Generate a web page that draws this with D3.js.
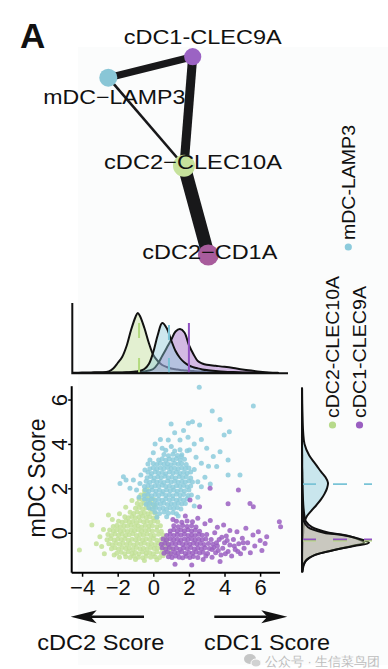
<!DOCTYPE html>
<html><head><meta charset="utf-8">
<script src="https://cdn.jsdelivr.net/npm/d3@7"></script>
<style>body{margin:0;background:#fff}svg{display:block}text{font-family:"Liberation Sans",Arial,sans-serif;fill:#111}</style>
</head><body><svg id="c" width="388" height="669"></svg>
<script>
// ---------- DATA ----------
const nodeNames = ["mDC−LAMP3","cDC1-CLEC9A","cDC2−CLEC10A","cDC2−CD1A"];
const nodeLayoutX = [0, 0.844, 0.757, 1];
const nodeLayoutY = [0.106, 0, 0.55, 1];
const nodeSize = [0.82, 0.78, 1, 0.95];
const edgeFrom = [0, 1, 0, 2];
const edgeTo   = [1, 2, 2, 3];
const edgeWeight = [0.55, 0.7, 0.2, 1];

const legendNames = ["mDC-LAMP3","cDC2-CLEC10A","cDC1-CLEC9A"];

const xTicks = [-4,-2,0,2,4,6];
const yTicks = [0,2,4,6];

// top marginal density (cDC2/cDC1 score axis)
const gridX = [-4.5,-4,-3.5,-3,-2.5,-2.25,-2,-1.75,-1.5,-1.25,-1,-0.875,-0.75,-0.5,-0.25,0,0.25,0.5,0.75,1,1.25,1.5,1.75,2,2.25,2.5,2.75,3,3.5,4,4.5,5,5.5,6,6.5,7];
const densXGreen  = [0.2,0.4,0.6,0.8,1.5,4.5,10,16,27,43,56,60,57,45,30,18,12,8,6,4.5,3.8,3,2.6,2.2,1.9,1.6,1.4,1.2,0.9,0.6,0.4,0.3,0.2,0.1,0.1,0];
const densXBlue   = [0,0,0.1,0.2,0.3,0.4,0.5,0.6,0.8,1.1,1.5,1.8,2.2,4,9,21,38,50,45,33,22,15,10.5,7.5,5.8,4.6,3.6,2.9,2,1.3,0.9,0.6,0.4,0.2,0.1,0];
const densXPurple = [0,0,0,0.1,0.1,0.2,0.2,0.3,0.4,0.5,0.7,0.8,1,1.5,2.5,4,9,17,25,33,41.5,44,40.5,28,19,12,9.5,8.2,7.2,6.2,5,3.6,2.4,1.3,0.5,0.2];
const medianX = [-0.8, 0.88, 2.0]; // green, blue, purple

// right marginal density (mDC score axis)
const gridY = [-1.75,-1.5,-1.25,-1,-0.8,-0.6,-0.45,-0.25,-0.1,0,0.25,0.5,0.75,1,1.25,1.5,1.75,2,2.25,2.5,2.75,3,3.5,4,4.5,5,5.5,6,6.5];
const densYGreen  = [0.3,1,4,13,30,52,67,55,40,22,6,2,1.2,0.8,0.6,0.5,0.4,0.3,0.3,0.2,0.2,0.1,0.1,0,0,0,0,0,0];
const densYPurple = [0.5,1.5,4,13,30,50,62,54,42,27,10,4,2.5,1.8,1.3,1,0.7,0.5,0.4,0.3,0.2,0.1,0.1,0,0,0,0,0,0];
const densYBlue   = [0,0.1,0.2,0.3,0.4,0.5,0.6,0.8,1,1.2,1.5,2.5,5,9.5,14.5,19,22.5,25,26,23.5,19,15,7,2.5,1.2,0.7,0.4,0.2,0.1];
const medianY = [-0.36, 2.19, -0.30]; // green, blue, purple

// scatter points [cDC1-cDC2 score, mDC score]
const ptsGreen = [
[-1.55,-1.08],[-1.3,-1.12],[-1.1,-1.05],[-0.85,-1.1],[-0.6,-1.13],[-0.4,-1.06],[-0.15,-1.1],[0.1,-1.08],[0.35,-1.12],[0.55,-1.04],
[-2.05,-0.92],[-1.8,-0.88],[-1.6,-0.95],[-1.4,-0.86],[-1.2,-0.93],[-1.0,-0.89],[-0.8,-0.95],[-0.6,-0.87],[-0.4,-0.92],[-0.2,-0.9],[0.0,-0.95],[0.2,-0.86],[0.45,-0.92],[0.7,-0.88],[0.9,-0.94],
[-2.35,-0.72],[-2.15,-0.68],[-1.95,-0.74],[-1.75,-0.66],[-1.55,-0.71],[-1.35,-0.69],[-1.15,-0.75],[-0.95,-0.67],[-0.75,-0.72],[-0.55,-0.7],[-0.35,-0.74],[-0.15,-0.66],[0.05,-0.71],[0.25,-0.69],[0.5,-0.73],[0.75,-0.67],[1.0,-0.72],
[-2.5,-0.5],[-2.3,-0.54],[-2.1,-0.47],[-1.9,-0.52],[-1.7,-0.46],[-1.5,-0.53],[-1.3,-0.49],[-1.1,-0.55],[-0.9,-0.47],[-0.7,-0.51],[-0.5,-0.46],[-0.3,-0.53],[-0.1,-0.49],[0.1,-0.54],[0.3,-0.47],[0.55,-0.51],[0.8,-0.48],
[-2.6,-0.32],[-2.4,-0.27],[-2.2,-0.33],[-2.0,-0.28],[-1.8,-0.31],[-1.6,-0.26],[-1.4,-0.34],[-1.2,-0.29],[-1.0,-0.32],[-0.8,-0.27],[-0.6,-0.33],[-0.4,-0.28],[-0.2,-0.31],[0.0,-0.26],[0.2,-0.34],[0.45,-0.29],[0.7,-0.32],
[-2.55,-0.08],[-2.35,-0.12],[-2.15,-0.06],[-1.95,-0.11],[-1.75,-0.07],[-1.55,-0.13],[-1.35,-0.09],[-1.15,-0.05],[-0.95,-0.12],[-0.75,-0.08],[-0.55,-0.11],[-0.35,-0.06],[-0.15,-0.1],[0.05,-0.13],[0.3,-0.07],[0.55,-0.1],
[-2.45,0.12],[-2.25,0.08],[-2.05,0.13],[-1.85,0.07],[-1.65,0.11],[-1.45,0.06],[-1.25,0.12],[-1.05,0.09],[-0.85,0.13],[-0.65,0.07],[-0.45,0.1],[-0.25,0.14],[-0.05,0.08],[0.2,0.11],[0.45,0.07],
[-2.25,0.28],[-2.05,0.33],[-1.85,0.27],[-1.65,0.32],[-1.45,0.29],[-1.25,0.34],[-1.05,0.28],[-0.85,0.31],[-0.65,0.26],[-0.45,0.33],[-0.25,0.29],[-0.05,0.32],[0.2,0.27],[0.4,0.31],
[-1.95,0.52],[-1.75,0.47],[-1.55,0.53],[-1.35,0.48],[-1.15,0.51],[-0.95,0.46],[-0.75,0.54],[-0.55,0.49],[-0.35,0.52],[-0.15,0.47],[0.05,0.53],[0.25,0.5],
[-1.6,0.72],[-1.4,0.68],[-1.2,0.73],[-1.0,0.67],[-0.8,0.71],[-0.6,0.74],[-0.4,0.69],[-0.2,0.72],[0.0,0.66],[0.2,0.71],
[-1.3,0.92],[-1.1,0.87],[-0.9,0.93],[-0.7,0.88],[-0.5,0.91],[-0.3,0.86],[-0.1,0.92],[0.1,0.89],
[-1.0,1.1],[-0.8,1.14],[-0.6,1.07],[-0.4,1.12],[-0.2,1.08],[0.05,1.13],
[-0.9,1.32],[-0.7,1.27],[-0.5,1.33],[-0.3,1.28],[-0.1,1.31],[0.1,1.26],
[-0.8,1.52],[-0.6,1.47],[-0.4,1.53],[-0.2,1.49],[0.0,1.51],
[-0.7,1.7],[-0.5,1.74],[-0.3,1.68],[-0.5,1.9],[-0.35,1.95],
[-4.15,-0.78],[-3.45,0.35],[-3.0,-0.18],[-2.9,-0.62],[-2.52,0.8],[-2.8,0.15],[-2.75,-0.95],[-2.3,0.6],[-1.9,0.85],[-1.55,1.15],[-1.2,1.45],[-2.2,-1.0],[-1.9,-1.1],[-0.5,-1.25],[0.2,-1.22],[-1.0,-1.2],[-3.2,-0.5]
];
const ptsBlue = [
[0.1,0.92],[0.35,0.87],[0.6,0.93],[0.85,0.88],[1.1,0.91],[1.3,0.86],
[-0.25,1.12],[-0.05,1.07],[0.15,1.13],[0.35,1.08],[0.55,1.11],[0.75,1.06],[0.95,1.12],[1.15,1.09],[1.35,1.13],[1.55,1.07],
[-0.4,1.28],[-0.2,1.33],[0.0,1.27],[0.2,1.32],[0.4,1.29],[0.6,1.34],[0.8,1.27],[1.0,1.31],[1.2,1.28],[1.4,1.33],[1.6,1.29],[1.8,1.32],
[-0.5,1.52],[-0.3,1.47],[-0.1,1.53],[0.1,1.48],[0.3,1.51],[0.5,1.46],[0.7,1.53],[0.9,1.49],[1.1,1.52],[1.3,1.47],[1.5,1.51],[1.7,1.48],[1.9,1.53],
[-0.5,1.68],[-0.3,1.73],[-0.1,1.67],[0.1,1.72],[0.3,1.69],[0.5,1.74],[0.7,1.68],[0.9,1.71],[1.1,1.67],[1.3,1.73],[1.5,1.69],[1.7,1.72],[1.95,1.68],
[-0.45,1.92],[-0.25,1.87],[-0.05,1.93],[0.15,1.88],[0.35,1.91],[0.55,1.86],[0.75,1.92],[0.95,1.89],[1.15,1.93],[1.35,1.87],[1.55,1.91],[1.75,1.88],[2.0,1.92],
[-0.5,2.08],[-0.3,2.13],[-0.1,2.07],[0.1,2.12],[0.3,2.09],[0.5,2.14],[0.7,2.08],[0.9,2.11],[1.1,2.06],[1.3,2.12],[1.5,2.09],[1.7,2.13],[1.9,2.07],[2.1,2.11],
[-0.4,2.32],[-0.2,2.27],[0.0,2.33],[0.2,2.28],[0.4,2.31],[0.6,2.26],[0.8,2.33],[1.0,2.29],[1.2,2.32],[1.4,2.27],[1.6,2.31],[1.8,2.28],[2.0,2.33],[2.2,2.29],
[-0.35,2.48],[-0.15,2.53],[0.05,2.47],[0.25,2.52],[0.45,2.49],[0.65,2.54],[0.85,2.48],[1.05,2.51],[1.25,2.47],[1.45,2.53],[1.65,2.49],[1.85,2.52],[2.1,2.47],
[-0.3,2.72],[-0.1,2.67],[0.1,2.73],[0.3,2.68],[0.5,2.71],[0.7,2.66],[0.9,2.73],[1.1,2.69],[1.3,2.72],[1.5,2.67],[1.7,2.71],[1.9,2.68],[2.1,2.73],
[-0.2,2.88],[0.0,2.93],[0.2,2.87],[0.4,2.92],[0.6,2.89],[0.8,2.94],[1.0,2.88],[1.2,2.91],[1.4,2.87],[1.6,2.93],[1.8,2.89],[2.0,2.92],
[0.0,3.12],[0.2,3.07],[0.4,3.13],[0.6,3.08],[0.8,3.11],[1.0,3.06],[1.2,3.13],[1.4,3.09],[1.6,3.12],[1.85,3.07],
[0.3,3.28],[0.5,3.33],[0.7,3.27],[0.9,3.32],[1.1,3.29],[1.3,3.34],[1.5,3.28],[1.75,3.31],
[0.6,3.52],[0.85,3.47],[1.1,3.53],[1.35,3.48],[1.6,3.51],
[0.7,3.72],[1.2,3.68],[1.5,3.74],[1.9,3.69],
[2.58,6.55],[5.62,5.71],[3.31,5.48],[3.75,5.1],[1.97,4.93],[2.6,4.85],[4.27,4.55],[3.98,4.4],[1.5,4.18],[1.95,4.3],[2.7,4.2],[0.84,4.18],[0.4,4.2],[0.1,4.0],
[3.75,3.65],[3.37,3.43],[4.2,3.28],[4.87,2.6],[4.2,2.6],[3.56,2.98],[-1.68,2.52],[-1.53,2.37],[-1.12,2.37],[-0.75,2.22],[-0.94,1.92],[-1.31,2.0],[-1.87,2.22],
[2.7,2.07],[2.14,1.7],[2.5,2.3],[2.3,2.85],[2.7,3.13],[2.03,3.73],[1.57,3.43],[1.01,3.88],[-0.19,3.28],[-0.47,2.83],[1.2,4.5],[2.3,4.0],[0.5,3.8],[1.7,4.6],
[3.0,3.8],[2.9,2.5],[3.1,3.0],[-0.8,1.6],[-0.7,2.6],[0.2,0.7],[0.75,0.72],[1.4,0.75],[2.3,1.2],[2.5,1.6],[3.2,2.2],[1.0,4.9],[2.2,5.0],[0.0,3.6],[-0.3,3.1],[2.4,3.4]
];
const ptsPurple = [
[0.85,-1.08],[1.05,-1.12],[1.25,-1.05],[1.45,-1.1],[1.65,-1.13],[1.85,-1.06],[2.05,-1.11],[2.25,-1.07],[2.5,-1.12],
[0.6,-0.92],[0.8,-0.87],[1.0,-0.93],[1.2,-0.88],[1.4,-0.91],[1.6,-0.86],[1.8,-0.93],[2.0,-0.89],[2.2,-0.92],[2.4,-0.87],[2.6,-0.91],[2.8,-0.88],[3.05,-0.93],
[0.5,-0.68],[0.7,-0.73],[0.9,-0.67],[1.1,-0.72],[1.3,-0.69],[1.5,-0.74],[1.7,-0.68],[1.9,-0.71],[2.1,-0.67],[2.3,-0.73],[2.5,-0.69],[2.7,-0.72],[2.9,-0.68],[3.15,-0.71],[3.4,-0.67],
[0.45,-0.52],[0.65,-0.47],[0.85,-0.53],[1.05,-0.48],[1.25,-0.51],[1.45,-0.46],[1.65,-0.53],[1.85,-0.49],[2.05,-0.52],[2.25,-0.47],[2.45,-0.51],[2.65,-0.48],[2.85,-0.53],[3.1,-0.49],[3.35,-0.52],
[0.55,-0.28],[0.75,-0.33],[0.95,-0.27],[1.15,-0.32],[1.35,-0.29],[1.55,-0.34],[1.75,-0.28],[1.95,-0.31],[2.15,-0.27],[2.35,-0.33],[2.55,-0.29],[2.75,-0.32],[2.95,-0.28],[3.25,-0.31],
[0.75,-0.12],[0.95,-0.07],[1.15,-0.13],[1.35,-0.08],[1.55,-0.11],[1.75,-0.06],[1.95,-0.13],[2.15,-0.09],[2.35,-0.12],[2.55,-0.07],[2.75,-0.11],[3.0,-0.08],
[0.95,0.08],[1.15,0.13],[1.35,0.07],[1.55,0.12],[1.75,0.09],[1.95,0.14],[2.15,0.08],[2.35,0.11],[2.6,0.07],
[1.15,0.32],[1.4,0.27],[1.65,0.33],[1.9,0.28],[2.15,0.31],[2.4,0.26],
[1.3,0.52],[1.6,0.47],[1.9,0.53],[2.2,0.49],
[3.5,-0.9],[3.6,-0.6],[3.7,-0.3],[3.8,-1.0],[3.9,-0.7],[4.0,-0.45],[4.1,-0.15],[4.2,-0.85],[4.3,-0.55],[4.4,-1.05],[4.5,-0.3],[4.6,-0.75],[4.7,0.05],[4.8,-0.5],
[4.9,-0.95],[5.0,-0.25],[5.1,-0.7],[5.2,0.2],[5.3,-0.45],[5.45,-0.9],[5.6,-0.1],[5.7,-0.6],[5.9,0.05],[6.0,-0.35],[6.1,-0.8],[6.28,-0.48],[6.37,-0.18],
[3.45,0.0],[3.6,0.25],[3.95,0.35],[4.3,0.1],[7.08,0.5],[7.15,0.27],[4.78,1.92],[5.43,1.32],[5.62,1.17],[3.19,2.0],[4.2,1.3],[2.06,1.47],[2.6,1.17],
[1.22,-1.42],[2.16,-1.45],[3.75,-1.3],[2.8,-1.2],[3.3,-1.1],[1.8,0.75],[2.5,0.65],[2.9,0.4],[3.2,0.55],[1.1,0.6],[3.55,-0.45],[3.85,-0.2],[4.05,-0.95],
[4.55,-0.6],[3.3,-0.75],[2.95,-1.05],[3.65,-0.8],[4.15,-0.35],[4.75,-0.85],[5.05,-0.45]
];

// ---------- STYLE ----------
const C = {blue:"#8ccbdc", green:"#c2e096", purple:"#9a5fc1", magenta:"#a85c9c",
           nodeBlue:"#89c6d6", nodeGreen:"#c6e29c", nodePurple:"#9b63c3"};
const nodeColors = [C.nodeBlue, C.nodePurple, C.nodeGreen, C.magenta];

const svg = d3.select("#c");
svg.append("rect").attr("x",78).attr("y",47).attr("width",310).attr("height",618).attr("fill","#fbfcfc");

// ---------- NETWORK ----------
const nx = d3.scaleLinear().domain([0,1]).range([108.3,208.3]);
const ny = d3.scaleLinear().domain([0,1]).range([56.7,255]);
const nr = d3.scaleLinear().domain([0,1]).range([0,11]);
const ew = d3.scaleLinear().domain([0,1]).range([0,13]);
const gNet = svg.append("g");
gNet.selectAll("line").data(edgeFrom.map((f,i)=>({f,t:edgeTo[i],w:edgeWeight[i]})))
  .join("line")
  .attr("x1",d=>nx(nodeLayoutX[d.f])).attr("y1",d=>ny(nodeLayoutY[d.f]))
  .attr("x2",d=>nx(nodeLayoutX[d.t])).attr("y2",d=>ny(nodeLayoutY[d.t]))
  .attr("stroke","#18181a").attr("stroke-width",d=>ew(d.w));
gNet.selectAll("circle").data(nodeNames).join("circle")
  .attr("cx",(d,i)=>nx(nodeLayoutX[i])).attr("cy",(d,i)=>ny(nodeLayoutY[i]))
  .attr("r",(d,i)=>nr(nodeSize[i])).attr("fill",(d,i)=>nodeColors[i]);
// label placement (offset from node, style)
const labOff = [[-65,26],[-69,-13],[-80,3],[-66,3.5]];
const labLen = [142,158,178,135];
gNet.selectAll("text").data(nodeNames).join("text")
  .attr("x",(d,i)=>nx(nodeLayoutX[i])+labOff[i][0])
  .attr("y",(d,i)=>ny(nodeLayoutY[i])+labOff[i][1])
  .attr("font-size",20).attr("textLength",(d,i)=>labLen[i]).attr("lengthAdjust","spacingAndGlyphs")
  .text(d=>d);

svg.append("text").attr("x",20).attr("y",48).attr("font-size",35).attr("font-weight","bold").attr("fill","#222").text("A");

// ---------- SCATTER ----------
const x = d3.scaleLinear().domain([-4.6,7.1]).range([71.4,279.7]);
const y = d3.scaleLinear().domain([-1.8,6.6]).range([572.7,386.2]);
const gPts = svg.append("g");
[[ptsGreen,C.green],[ptsBlue,C.blue],[ptsPurple,C.purple]].forEach(([pts,col])=>{
  gPts.append("g").selectAll("circle").data(pts).join("circle")
    .attr("cx",d=>x(d[0])).attr("cy",d=>y(d[1])).attr("r",2.5)
    .attr("fill",col).attr("fill-opacity",0.85);
});
const xAx = svg.append("g").attr("transform","translate(0,572.7)")
  .call(d3.axisBottom(x).tickValues(xTicks).tickSize(4).tickSizeOuter(0));
xAx.select(".domain").attr("d","M71.7,0H280").attr("stroke-width",2);
xAx.selectAll(".tick line").attr("stroke-width",1.5);
xAx.selectAll("text").attr("font-size",22).attr("fill","#111").attr("font-family","Liberation Sans, Arial, sans-serif");
const yAx = svg.append("g").attr("transform","translate(71.7,0)")
  .call(d3.axisLeft(y).tickValues(yTicks).tickSize(3.5).tickSizeOuter(0));
yAx.select(".domain").attr("d","M0,386.2V572.7").attr("stroke-width",2);
yAx.selectAll(".tick line").attr("stroke-width",1.5);
yAx.selectAll("text").attr("font-size",22).attr("fill","#111").attr("font-family","Liberation Sans, Arial, sans-serif")
  .attr("transform","rotate(-90)").attr("x",0).attr("y",-5).attr("dy",0).attr("text-anchor","middle");
svg.append("text").attr("transform","translate(45,478) rotate(-90)").attr("text-anchor","middle")
  .attr("font-size",23).text("mDC Score");

// ---------- TOP MARGINAL ----------
const ty = d3.scaleLinear().domain([0,70]).range([373,303]);
const gTop = svg.append("g");
const areaTop = d3.area().x(d=>x(d[0])).y0(ty(0)).y1(d=>ty(d[1])).curve(d3.curveCatmullRom);
[[densXGreen,C.green],[densXPurple,C.purple],[densXBlue,C.blue]].forEach(([dv,col])=>{
  gTop.append("path").datum(gridX.map((g,i)=>[g,dv[i]])).attr("d",areaTop)
    .attr("fill",col).attr("fill-opacity",0.42).attr("stroke","#111").attr("stroke-width",2).attr("stroke-linejoin","round");
});
const medCols = ["#b3da7e","#79c3d6","#9152c2"];
const medDash = ["15,20","15,18",null];
medianX.forEach((m,i)=>{
  gTop.append("line").attr("x1",x(m)).attr("x2",x(m)).attr("y1",ty(0)).attr("y2",ty(50))
    .attr("stroke",medCols[i]).attr("stroke-width",2).attr("stroke-dasharray",medDash[i]);
});
gTop.append("path").attr("d","M72.3,303V373.3H288").attr("fill","none").attr("stroke","#111").attr("stroke-width",2);

// ---------- RIGHT MARGINAL ----------
const rx = d3.scaleLinear().domain([0,70]).range([302,372]);
const gR = svg.append("g");
const areaR = d3.area().y(d=>y(d[0])).x0(rx(0)).x1(d=>rx(d[1])).curve(d3.curveCatmullRom);
[[densYBlue,C.blue],[densYPurple,C.purple],[densYGreen,C.green]].forEach(([dv,col])=>{
  gR.append("path").datum(gridY.map((g,i)=>[g,dv[i]])).attr("d",areaR)
    .attr("fill",col).attr("fill-opacity",0.45).attr("stroke","#111").attr("stroke-width",2).attr("stroke-linejoin","round");
});
medianY.forEach((m,i)=>{
  gR.append("line").attr("x1",rx(0)).attr("x2",rx(70)).attr("y1",y(m)).attr("y2",y(m))
    .attr("stroke",medCols[i]).attr("stroke-width",1.6).attr("stroke-dasharray","14,17");
});
gR.append("line").attr("x1",302).attr("x2",302).attr("y1",388).attr("y2",563).attr("stroke","#111").attr("stroke-width",2);

// ---------- LEGEND ----------
const legCols = ["#8ccbdc","#b7da8a","#9a5fc1"];
const legX = [348.3, 332.5, 359.5];
const legDotY = [247, 425, 425];
const legLen = [115, 142, 132];
legendNames.forEach((n,i)=>{
  svg.append("circle").attr("cx",legX[i]).attr("cy",legDotY[i]).attr("r",3.6).attr("fill",legCols[i]);
  svg.append("text").attr("transform",`translate(${legX[i]+6.5},${legDotY[i]-7}) rotate(-90)`)
    .attr("font-size",19).attr("textLength",legLen[i]).attr("lengthAdjust","spacingAndGlyphs").text(n);
});

// ---------- BOTTOM ARROWS / TITLES ----------
const gB = svg.append("g");
function arrow(x1,x2,yy){
  const dir = Math.sign(x2-x1);
  gB.append("line").attr("x1",x1).attr("x2",x2-dir*20).attr("y1",yy).attr("y2",yy).attr("stroke","#111").attr("stroke-width",2.6);
  gB.append("path").attr("d",`M${x2},${yy}L${x2-dir*26},${yy-6.5}L${x2-dir*20},${yy}L${x2-dir*26},${yy+6.5}Z`).attr("fill","#111");
}
arrow(144,70.7,616.7);
arrow(214.3,287.3,616.7);
gB.append("text").attr("x",37.3).attr("y",650).attr("font-size",22).attr("textLength",127).attr("lengthAdjust","spacingAndGlyphs").text("cDC2 Score");
gB.append("text").attr("x",204).attr("y",650).attr("font-size",22).attr("textLength",126).attr("lengthAdjust","spacingAndGlyphs").text("cDC1 Score");

// watermark
const gW = svg.append("g").attr("opacity",0.55);
gW.append("ellipse").attr("cx",250).attr("cy",659).attr("rx",6).attr("ry",5).attr("fill","#9a9a9a");
gW.append("ellipse").attr("cx",256).attr("cy",663).attr("rx",5).attr("ry",4).attr("fill","#b0b0b0").attr("stroke","#fff").attr("stroke-width",1);
gW.append("text").attr("x",265).attr("y",666).attr("font-size",12.5).attr("font-family","Noto Sans CJK SC").style("fill","#8a8a8a").text("公众号 · 生信菜鸟团");
</script></body></html>
